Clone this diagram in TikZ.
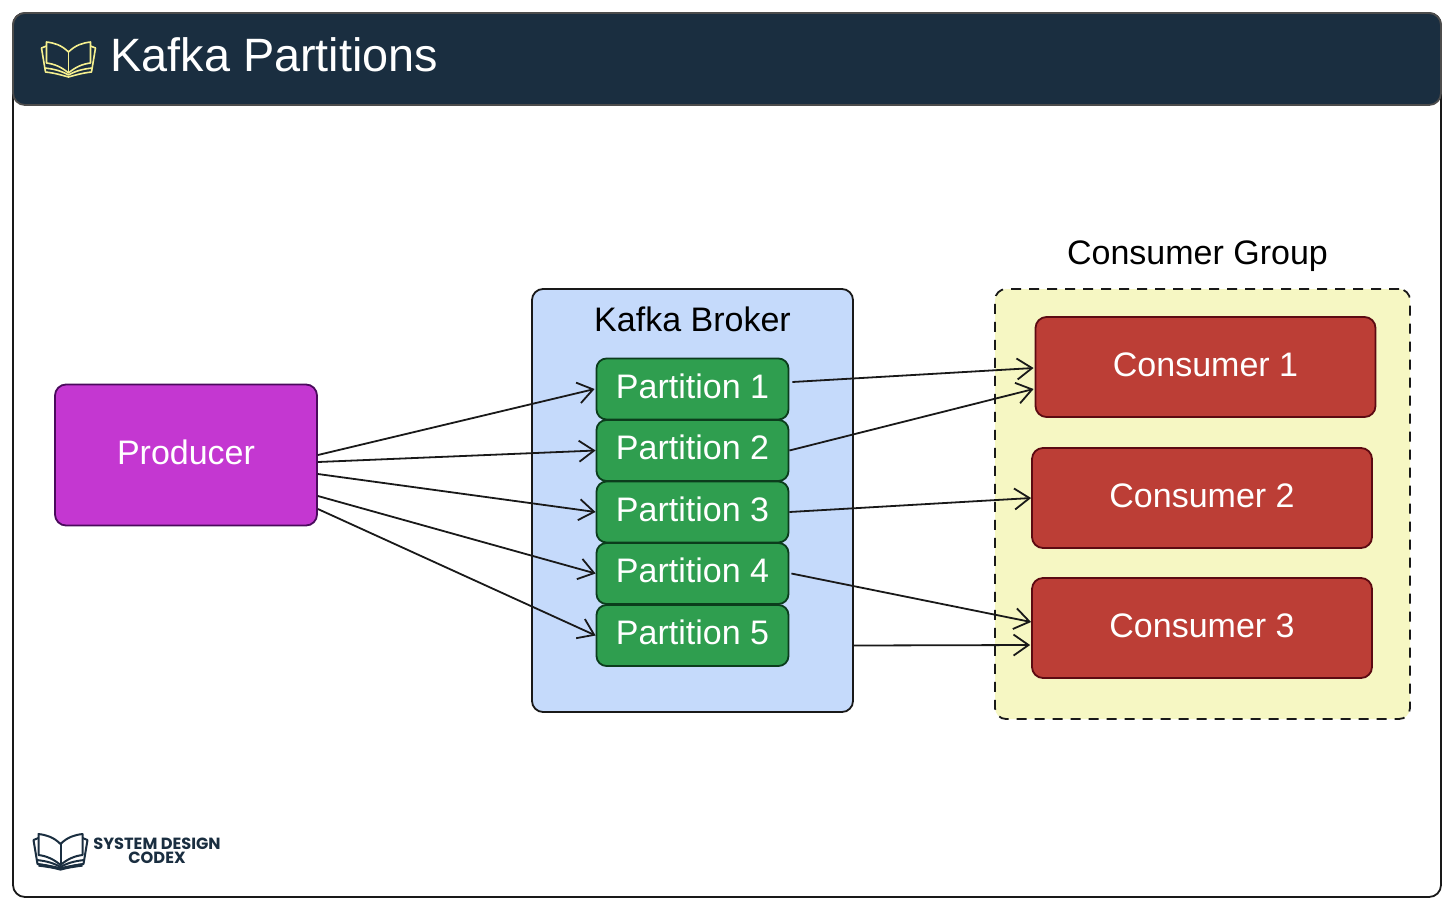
\documentclass[tikz,border=0pt]{standalone}
\usepackage{fontspec}
\setmainfont{Liberation Sans}
\newfontfamily\logofont{Poppins}
\usetikzlibrary{arrows.meta}
\definecolor{headerblue}{HTML}{1A2E40}
\definecolor{bookyellow}{HTML}{F6F08F}
\definecolor{producerfill}{HTML}{C437D1}
\definecolor{producerline}{HTML}{4A0A5C}
\definecolor{brokerfill}{HTML}{C5DAFB}
\definecolor{partitionfill}{HTML}{2F9E4F}
\definecolor{partitionline}{HTML}{0B3D1C}
\definecolor{groupfill}{HTML}{F6F7C3}
\definecolor{consumerfill}{HTML}{BC3E36}
\definecolor{consumerline}{HTML}{5C0A12}
\begin{document}
\begin{tikzpicture}[x=0.5pt,y=-0.5pt]
        % Define styles
        \tikzset{
            flow/.style={-{Straight Barb[length=7.5pt,width=10.5pt]}, line width=0.9pt, draw=black!90},
            label/.style={font=\fontsize{17}{20}\selectfont},
            box/.style={rounded corners=5.5pt, inner sep=0pt, line width=0.9pt, anchor=center},
            boxtext/.style={label, text=white, text height=12.2pt, text depth=3pt},
            partition/.style={box, boxtext, rounded corners=5pt, draw=partitionline, fill=partitionfill, minimum width=96pt, minimum height=30.5pt},
            consumer/.style={box, boxtext, draw=consumerline, fill=consumerfill, minimum width=170pt, minimum height=50pt},
            bookicon/.pic={
                \draw[line width=#1, line join=round] (0,-7) .. controls (-7,-14) and (-14,-16) .. (-22,-17) -- (-22,4) .. controls (-14,5) and (-7,8) .. (0,14) .. controls (7,8) and (14,5) .. (22,4) -- (22,-17) .. controls (14,-16) and (7,-14) .. (0,-7) -- cycle;
                \draw[line width=#1] (0,-7) -- (0,14);
                \draw[line width=#1, line join=round] (-22,-13) -- (-27,-11) -- (-23,13) .. controls (-14,14) and (-7,16) .. (0,18) .. controls (7,16) and (14,14) .. (23,13) -- (27,-11) -- (22,-13);
                \draw[line width=#1, line join=round] (-24,9) .. controls (-14,10) and (-7,12) .. (0,16) .. controls (7,12) and (14,10) .. (24,9);
            }
        }
        \useasboundingbox (0,0) rectangle (1456,911);
        % Outer frame and title bar
        \node[box, rounded corners=6pt, draw=black!90, minimum width=714pt, minimum height=442pt] (frame) at (727,455) {};
        \node[box, rounded corners=6pt, draw=black!70, fill=headerblue, minimum width=714pt, minimum height=46pt] (header) at (727,59) {};
        \draw[bookyellow] (68.5,59) pic {bookicon=0.8pt};
        \node[anchor=west, inner sep=0pt, text=white, font=\fontsize{23.4}{28}\selectfont] (title) at (110,55) {Kafka Partitions};
        % Producer
        \node[box, boxtext, draw=producerline, fill=producerfill, minimum width=131pt, minimum height=70.5pt] (producer) at (186,455) {Producer};
        % Broker with its partitions
        \node[box, draw=black!90, fill=brokerfill, minimum width=160.5pt, minimum height=211.5pt] (broker) at (692.5,500.5) {};
        \node[label, inner sep=0pt] (brokertitle) at (692.5,319) {Kafka Broker};
        \node[partition] (part1) at (692.5,389) {Partition 1};
        \node[partition] (part2) at (692.5,450.5) {Partition 2};
        \node[partition] (part3) at (692.5,512) {Partition 3};
        \node[partition] (part4) at (692.5,573.5) {Partition 4};
        \node[partition] (part5) at (692.5,635.5) {Partition 5};
        % Consumer group
        \node[box, draw=black!90, dashed, dash pattern=on 5pt off 4pt, fill=groupfill, minimum width=207.5pt, minimum height=215pt] (group) at (1202.5,504) {};
        \node[label, inner sep=0pt] (grouptitle) at (1197.5,256) {Consumer Group};
        \node[consumer] (cons1) at (1205.5,367) {Consumer 1};
        \node[consumer] (cons2) at (1202,498) {Consumer 2};
        \node[consumer] (cons3) at (1202,628) {Consumer 3};
        % Producer to partitions
        \draw[flow] ([yshift=0pt]producer.east) -- ([xshift=-0.5pt]part1.west);
        \draw[flow] ([yshift=-3.5pt]producer.east) -- (part2.west);
        \draw[flow] ([yshift=-9.5pt]producer.east) -- (part3.west);
        \draw[flow] ([yshift=-20.5pt]producer.east) -- (part4.west);
        \draw[flow] ([yshift=-27pt]producer.east) -- (part5.west);
        % Partitions to consumers
        \draw[flow] ([xshift=1.5pt,yshift=3.5pt]part1.east) -- ([xshift=-0.5pt,yshift=-0.5pt]cons1.west);
        \draw[flow] (part2.east) -- ([xshift=-0.5pt,yshift=-11pt]cons1.west);
        \draw[flow] (part3.east) -- (cons2.west);
        \draw[flow] ([xshift=1pt]part4.east) -- ([yshift=3pt]cons3.west);
        \draw[flow] ([yshift=-72.5pt]broker.east) -- ([xshift=-0.5pt,yshift=-8.5pt]cons3.west);
        % Logo
        \draw[headerblue] (60.5,851) pic {bookicon=1pt};
        \draw[headerblue, line width=1.6pt, shift={(60.5,851)}] (-22,14) .. controls (-14,15) and (-7,16) .. (0,18) .. controls (7,16) and (14,15) .. (22,14);
        \node[inner sep=0pt, align=center, text=headerblue, font=\logofont\bfseries\fontsize{8.1}{6.8}\selectfont] (logo) at (157,851) {SYSTEM DESIGN\\CODEX};
\end{tikzpicture}
\end{document}
